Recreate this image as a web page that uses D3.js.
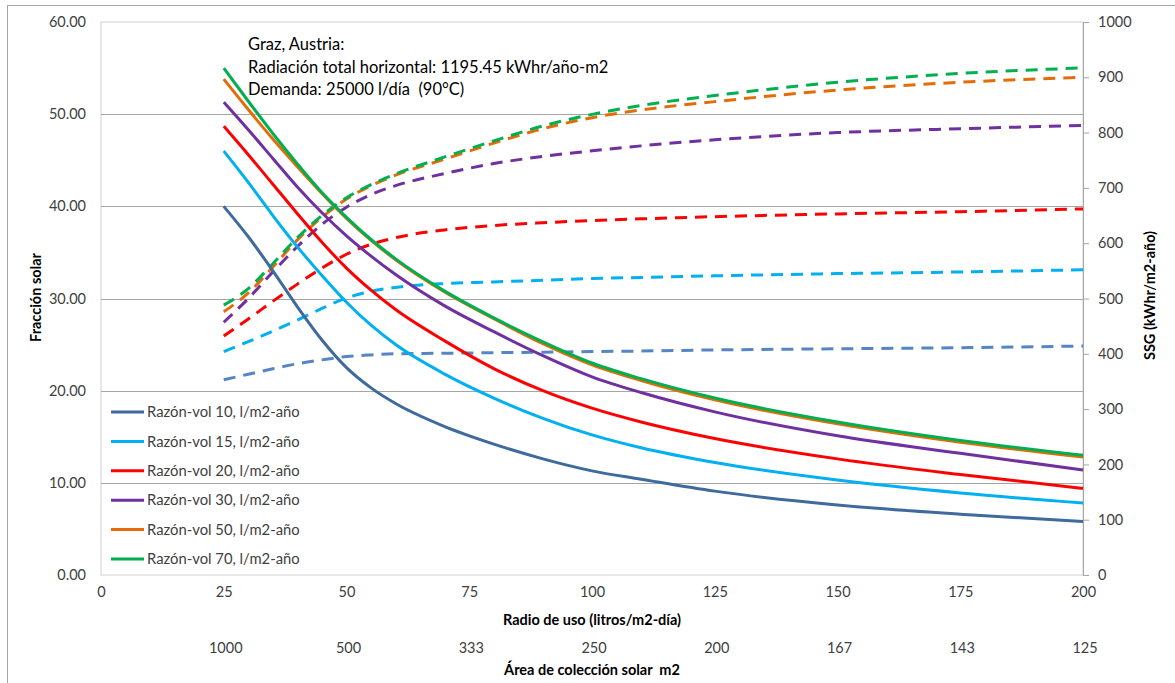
<!DOCTYPE html>
<html>
<head>
<meta charset="utf-8">
<script src="https://cdn.jsdelivr.net/npm/d3@7"></script>
<style>
  body { margin: 0; background: #fff; }
  text { font-family: Lato, "Open Sans", sans-serif; fill: #404040; white-space: pre; }
</style>
</head>
<body>
<div id="chart"></div>
<script>
// data
var radio = [25, 30, 35, 40, 45, 50, 55, 60, 70, 80, 90, 100, 110, 125, 150, 175, 200];
var series = ["Razón-vol 10, l/m2-año", "Razón-vol 15, l/m2-año", "Razón-vol 20, l/m2-año",
              "Razón-vol 30, l/m2-año", "Razón-vol 50, l/m2-año", "Razón-vol 70, l/m2-año"];
var colorsSolid = ["#3e6a9e", "#00b0f0", "#ff0000", "#7030a0", "#e36c09", "#00b050"];
var colorsDash  = ["#5585c5", "#00b0f0", "#ff0000", "#7030a0", "#e36c09", "#00b050"];

// fracción solar (left axis)
var fs10 = [40.0, 36.7, 33.0, 29.1, 25.5, 22.5, 20.3, 18.6, 16.1, 14.2, 12.6, 11.3, 10.4, 9.1, 7.6, 6.6, 5.8];
var fs15 = [46.0, 42.6, 39.0, 35.6, 32.5, 29.6, 27.1, 25.0, 21.8, 19.2, 17.0, 15.2, 13.8, 12.2, 10.3, 8.9, 7.8];
var fs20 = [48.7, 45.6, 42.4, 39.2, 36.1, 33.3, 30.9, 28.8, 25.4, 22.4, 20.0, 18.1, 16.6, 14.8, 12.6, 10.9, 9.4];
var fs30 = [51.3, 48.3, 45.2, 42.1, 39.3, 36.8, 34.6, 32.6, 29.2, 26.4, 23.8, 21.5, 19.8, 17.7, 15.1, 13.2, 11.4];
var fs50 = [53.8, 50.5, 47.3, 44.3, 41.4, 38.7, 36.3, 34.2, 30.7, 27.8, 25.1, 22.8, 21.1, 19.0, 16.4, 14.4, 12.8];
var fs70 = [55.0, 51.4, 47.9, 44.6, 41.5, 38.8, 36.4, 34.3, 30.8, 27.9, 25.3, 23.0, 21.3, 19.2, 16.6, 14.6, 13.0];

// SSG kWhr/m2-año (right axis)
var ssg10 = [353, 363, 373, 382, 389, 395, 398, 400, 401, 402, 403, 404, 405, 407, 409, 411, 414];
var ssg15 = [404, 422, 441, 461, 482, 501, 513, 520, 527, 530, 533, 536, 538, 541, 545, 548, 552];
var ssg20 = [432, 463, 495, 526, 555, 580, 598, 610, 624, 632, 637, 641, 644, 648, 653, 657, 662];
var ssg30 = [457, 500, 548, 594, 634, 665, 688, 704, 726, 744, 757, 767, 776, 787, 800, 807, 813];
var ssg50 = [476, 510, 557, 606, 647, 680, 704, 723, 752, 781, 807, 827, 841, 856, 877, 891, 900];
var ssg70 = [488, 518, 563, 610, 650, 682, 706, 725, 756, 785, 812, 833, 849, 867, 891, 907, 917];

var xTicks = [0, 25, 50, 75, 100, 125, 150, 175, 200];
var areaTicks = [25, 50, 75, 100, 125, 150, 175, 200];
var areaLabels = ["1000", "500", "333", "250", "200", "167", "143", "125"];
var notes = ["Graz, Austria:", "Radiación total horizontal: 1195.45 kWhr/año-m2", "Demanda: 25000 l/día  (90°C)"];

var fsData = [fs10, fs15, fs20, fs30, fs50, fs70];
var ssgData = [ssg10, ssg15, ssg20, ssg30, ssg50, ssg70];

var W = 1175, H = 683;
var margin = {top: 22, right: 92, bottom: 108, left: 101},
    width = W - margin.left - margin.right,
    height = H - margin.top - margin.bottom;

var root = d3.select("#chart").append("svg")
    .attr("width", W).attr("height", H);

// outer chart border
root.append("rect")
    .attr("x", 7.5).attr("y", 5.5).attr("width", W).attr("height", H)
    .attr("fill", "none").attr("stroke", "#a6a6a6");

var svg = root.append("g")
    .attr("transform", "translate(" + margin.left + "," + margin.top + ")");

var x = d3.scaleLinear().domain([0, 200]).range([0, width]);
var yL = d3.scaleLinear().domain([0, 60]).range([height, 0]);
var yR = d3.scaleLinear().domain([0, 1000]).range([height, 0]);

// plot area border
svg.append("rect")
    .attr("x", 0).attr("y", 0).attr("width", width).attr("height", height)
    .attr("fill", "none").attr("stroke", "#d0d0d0");

// gridlines
svg.append("g")
    .selectAll("line")
    .data(d3.range(10, 60, 10))
    .enter().append("line")
    .attr("x1", 0).attr("x2", width)
    .attr("y1", function(d) { return Math.round(yL(d)) + 0.5; })
    .attr("y2", function(d) { return Math.round(yL(d)) + 0.5; })
    .attr("stroke", "#a6a6a6");

// left axis
var gL = svg.append("g")
    .call(d3.axisLeft(yL).tickValues(d3.range(0, 61, 10)).tickFormat(d3.format(".2f")).tickSize(0).tickPadding(15));
gL.select(".domain").remove();
gL.selectAll("text").style("font-size", "14.5px").style("fill", "#404040").style("font-family", "Lato, sans-serif");

// right axis
var gR = svg.append("g")
    .attr("transform", "translate(" + width + ",0)")
    .call(d3.axisRight(yR).tickValues(d3.range(0, 1001, 100)).tickFormat(d3.format("d")).tickSize(6).tickPadding(9));
gR.select(".domain").attr("stroke", "#a6a6a6");
gR.selectAll(".tick line").attr("stroke", "#a6a6a6");
gR.selectAll("text").style("font-size", "14.5px").style("fill", "#404040").style("font-family", "Lato, sans-serif");

// bottom axis
var gB = svg.append("g")
    .attr("transform", "translate(0," + height + ")")
    .call(d3.axisBottom(x).tickValues(xTicks).tickSize(0).tickPadding(12));
gB.select(".domain").remove();
gB.selectAll("text").style("font-size", "14.5px").style("fill", "#404040").style("font-family", "Lato, sans-serif");

// second row: collector area
svg.append("g")
    .selectAll("text")
    .data(areaTicks)
    .enter().append("text")
    .attr("x", function(d) { return x(d) + 2; })
    .attr("y", height + 78)
    .attr("text-anchor", "middle")
    .style("font-size", "14.5px")
    .text(function(d, i) { return areaLabels[i]; });

// axis titles
svg.append("text")
    .attr("x", x(100)).attr("y", height + 50)
    .attr("text-anchor", "middle")
    .style("font-size", "14.5px").style("font-weight", "bold").style("fill", "#000")
    .text("Radio de uso (litros/m2-día)");

svg.append("text")
    .attr("x", x(100)).attr("y", height + 100)
    .attr("text-anchor", "middle")
    .style("font-size", "14.5px").style("font-weight", "bold").style("fill", "#000")
    .text("Área de colección solar  m2");

svg.append("text")
    .attr("transform", "rotate(-90)")
    .attr("x", -height / 2 + 1).attr("y", -margin.left + 41)
    .attr("text-anchor", "middle")
    .style("font-size", "14.5px").style("font-weight", "bold").style("fill", "#000")
    .text("Fracción solar");

svg.append("text")
    .attr("transform", "rotate(-90)")
    .attr("x", -height / 2 + 3).attr("y", width + 72)
    .attr("text-anchor", "middle")
    .style("font-size", "14.5px").style("font-weight", "bold").style("fill", "#000")
    .text("SSG (kWhr/m2-año)");

// lines
var lineL = d3.line()
    .x(function(d, i) { return x(radio[i]); })
    .y(function(d) { return yL(d); })
    .curve(d3.curveMonotoneX);
var lineR = d3.line()
    .x(function(d, i) { return x(radio[i]); })
    .y(function(d) { return yR(d); })
    .curve(d3.curveMonotoneX);

svg.selectAll(".dash")
    .data(ssgData)
    .enter().append("path")
    .attr("class", "dash")
    .attr("d", lineR)
    .attr("fill", "none")
    .attr("stroke", function(d, i) { return colorsDash[i]; })
    .attr("stroke-width", 3)
    .attr("stroke-dasharray", "12,8");

svg.selectAll(".solid")
    .data(fsData)
    .enter().append("path")
    .attr("class", "solid")
    .attr("d", lineL)
    .attr("fill", "none")
    .attr("stroke", function(d, i) { return colorsSolid[i]; })
    .attr("stroke-width", 3);

// annotation
svg.append("g")
    .selectAll("text")
    .data(notes)
    .enter().append("text")
    .attr("x", 147)
    .attr("y", function(d, i) { return 28 + i * 22.5; })
    .style("font-size", "16.5px").style("fill", "#000")
    .text(function(d) { return d; });

// legend
var leg = svg.append("g").attr("transform", "translate(10,390)");
var item = leg.selectAll("g")
    .data(series)
    .enter().append("g")
    .attr("transform", function(d, i) { return "translate(0," + (i * 29.4) + ")"; });
item.append("line")
    .attr("x1", 0).attr("x2", 33)
    .attr("stroke", function(d, i) { return colorsSolid[i]; })
    .attr("stroke-width", 3);
item.append("text")
    .attr("x", 36).attr("dy", "0.35em")
    .style("font-size", "14.8px").style("fill", "#404040")
    .text(function(d) { return d; });
</script>
</body>
</html>
